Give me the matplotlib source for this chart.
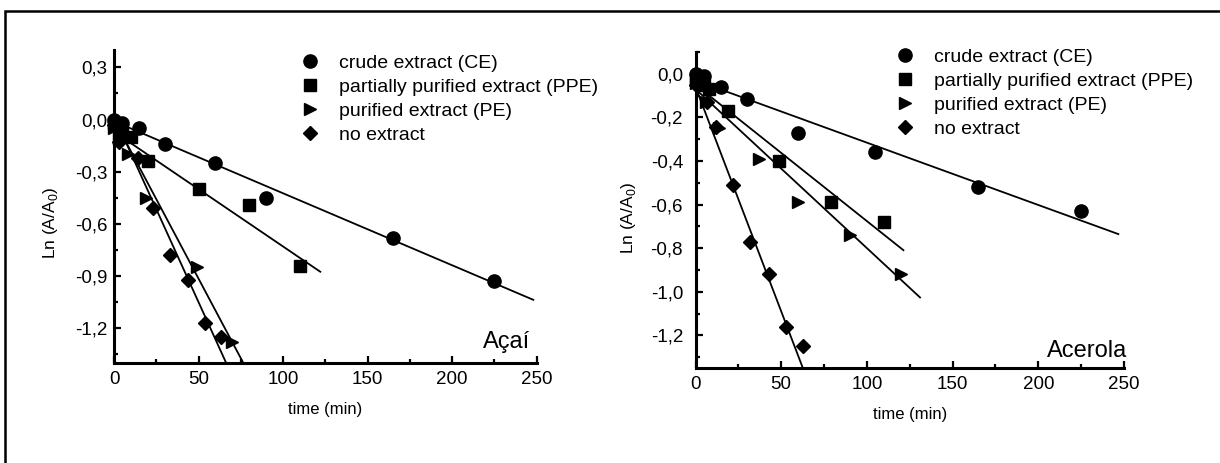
import numpy as np
import matplotlib
matplotlib.use("Agg")
import matplotlib.pyplot as plt
from matplotlib.ticker import MultipleLocator, FuncFormatter
from matplotlib.patches import Rectangle

plt.rcParams["font.family"] = ["Liberation Sans", "DejaVu Sans"]

labels = ["crude extract (CE)", "partially purified extract (PPE)",
          "purified extract (PE)", "no extract"]

# Acai
acai_ce_t = [0, 5, 15, 30, 60, 90, 165, 225]
acai_ce_y = [0.0, -0.02, -0.05, -0.14, -0.25, -0.45, -0.68, -0.93]
acai_ppe_t = [0, 5, 10, 20, 50, 80, 110]
acai_ppe_y = [-0.02, -0.06, -0.10, -0.24, -0.40, -0.49, -0.84]
acai_pe_t = [0, 3, 8, 19, 49, 70]
acai_pe_y = [-0.05, -0.11, -0.20, -0.45, -0.85, -1.28]
acai_no_t = [0, 3, 14, 23, 33, 43.5, 54, 63]
acai_no_y = [-0.03, -0.13, -0.22, -0.51, -0.78, -0.92, -1.17, -1.25]
# fitted lines: slope, intercept, end time
acai_fit_slope = [-0.00414, -0.0066, -0.0183, -0.0214]
acai_fit_icpt = [-0.01, -0.07, 0.0, 0.02]
acai_fit_end = [248, 122, 76.5, 66.4]

# Acerola
acer_ce_t = [0, 5, 15, 30, 60, 105, 165, 225]
acer_ce_y = [0.0, -0.01, -0.06, -0.115, -0.27, -0.36, -0.52, -0.63]
acer_ppe_t = [0, 5, 8, 19, 49, 79, 110]
acer_ppe_y = [-0.03, -0.05, -0.07, -0.17, -0.40, -0.59, -0.68]
acer_pe_t = [0, 6, 14, 37, 60, 90, 120]
acer_pe_y = [-0.04, -0.13, -0.25, -0.39, -0.59, -0.74, -0.92]
acer_no_t = [0, 7, 12, 22, 32, 43, 53, 63]
acer_no_y = [-0.05, -0.13, -0.245, -0.51, -0.77, -0.92, -1.16, -1.25]
acer_fit_slope = [-0.00286, -0.00626, -0.0073, -0.0206]
acer_fit_icpt = [-0.03, -0.05, -0.07, -0.06]
acer_fit_end = [246.7, 121.3, 131, 62.4]

markers = ["o", "s", ">", "D"]
msizes = [9.5, 8, 9, 7.5]

W, H = 1220, 463
fig = plt.figure(figsize=(W / 100, H / 100), dpi=100)

fig.patches.append(Rectangle((5.3 / W, -0.1), 1.2, (H - 11.3) / H + 0.1,
                             transform=fig.transFigure, fill=False,
                             edgecolor="black", lw=1.8))

comma = FuncFormatter(lambda v, p: ("%.1f" % v).replace(".", ",").replace("-0,0", "0,0"))


def panel(rect, series, slopes, icpts, ends, ylim, ymaj, ymin, name, name_xy, leg_xy, ypad, ylab_xy):
    ax = fig.add_axes(rect)
    handles = []
    for (t, y), m, ms in zip(series, markers, msizes):
        h, = ax.plot(t, y, linestyle="none", marker=m, ms=ms, color="black", clip_on=False)
        handles.append(h)
    for s, b, e in zip(slopes, icpts, ends):
        xx = np.array([0, e])
        ax.plot(xx, b + s * xx, color="black", lw=1.3)
    ax.set_xlim(0, 250)
    ax.set_ylim(*ylim)
    ax.xaxis.set_major_locator(MultipleLocator(50))
    ax.xaxis.set_minor_locator(MultipleLocator(25))
    ax.yaxis.set_major_locator(MultipleLocator(ymaj))
    ax.yaxis.set_minor_locator(MultipleLocator(ymin))
    ax.yaxis.set_major_formatter(comma)
    for sp in ["top", "right"]:
        ax.spines[sp].set_visible(False)
    for sp in ["left", "bottom"]:
        ax.spines[sp].set_linewidth(2.2)
    ax.tick_params(which="both", direction="in", width=1.6, labelsize=13.5)
    ax.tick_params(which="major", length=5)
    ax.tick_params(axis="x", pad=6)
    ax.tick_params(axis="y", pad=ypad)
    ax.tick_params(which="minor", length=3)
    ax.set_xlabel("time (min)", fontsize=12, labelpad=10)
    ax.set_ylabel(r"Ln (A/A$_\mathregular{0}$)", fontsize=12.5)
    ax.yaxis.set_label_coords(ylab_xy[0] / W, 1 - ylab_xy[1] / H, transform=fig.transFigure)
    ax.text(name_xy[0] / W, 1 - name_xy[1] / H, name, transform=fig.transFigure,
            ha="right", va="baseline", fontsize=17)
    fig.legend(handles, labels, loc="upper left",
               bbox_to_anchor=(leg_xy[0] / W, 1 - leg_xy[1] / H),
               frameon=False, fontsize=14, handlelength=1.0, handletextpad=1.0,
               labelspacing=0.34, borderpad=0, borderaxespad=0, numpoints=1)
    return ax


panel([114 / W, (H - 363) / H, (536.7 - 114) / W, (363 - 50) / H],
      [(acai_ce_t, acai_ce_y), (acai_ppe_t, acai_ppe_y),
       (acai_pe_t, acai_pe_y), (acai_no_t, acai_no_y)],
      acai_fit_slope, acai_fit_icpt, acai_fit_end,
      (-1.4, 0.4), 0.3, 0.15, "Açaí", (530, 348), (300, 54), 4.5, (60, 223))

panel([695.5 / W, (H - 368) / H, (1124 - 695.5) / W, (368 - 52) / H],
      [(acer_ce_t, acer_ce_y), (acer_ppe_t, acer_ppe_y),
       (acer_pe_t, acer_pe_y), (acer_no_t, acer_no_y)],
      acer_fit_slope, acer_fit_icpt, acer_fit_end,
      (-1.35, 0.1), 0.2, 0.1, "Acerola", (1127, 357), (895, 48), 9, (638, 218))

fig.savefig("out.png", dpi=100)
